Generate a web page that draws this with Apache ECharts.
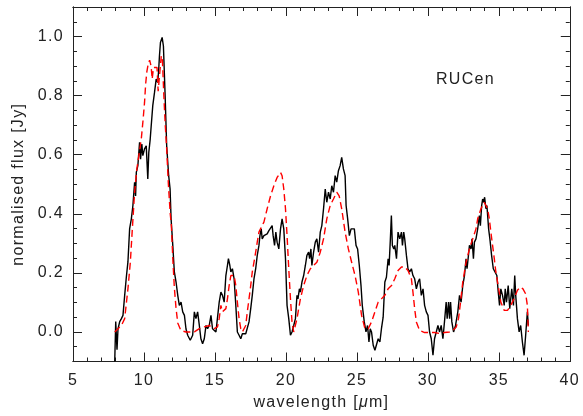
<!DOCTYPE html>
<html><head><meta charset="utf-8">
<script src="https://cdn.jsdelivr.net/npm/echarts@6/dist/echarts.min.js"></script>
<style>html,body{margin:0;padding:0;background:#fff}#c{width:583px;height:416px}</style>
</head><body><div id="c"></div>
<script>
// Observed spectrum (black, solid): [wavelength (µm), normalised flux (Jy)]
const observed = [
[7.94,-0.1],[8.01,0.035],[8.10,-0.06],[8.17,0.01],[8.29,0.035],[8.41,0.045],[8.52,0.056],[8.64,0.124],[8.76,0.187],[8.87,0.237],[8.99,0.35],[9.11,0.383],[9.22,0.428],[9.34,0.507],[9.41,0.46],[9.46,0.54],[9.57,0.563],[9.69,0.642],[9.76,0.585],[9.85,0.636],[9.92,0.597],[10.04,0.62],[10.16,0.63],[10.27,0.518],[10.34,0.608],[10.44,0.653],[10.51,0.698],[10.62,0.766],[10.74,0.81],[10.86,0.856],[10.97,0.845],[11.04,0.89],[11.09,0.934],[11.16,0.98],[11.28,0.997],[11.37,0.968],[11.49,0.8],[11.60,0.63],[11.74,0.529],[11.84,0.484],[11.91,0.383],[12.03,0.293],[12.14,0.203],[12.26,0.169],[12.38,0.124],[12.49,0.09],[12.61,0.101],[12.73,0.068],[12.85,0.056],[12.96,0.01],[13.08,-0.011],[13.26,-0.028],[13.43,-0.011],[13.55,0.068],[13.66,0.045],[13.78,0.068],[13.90,0.022],[14.01,-0.023],[14.13,-0.04],[14.25,-0.023],[14.37,0.022],[14.48,0.011],[14.60,0.022],[14.72,0.056],[14.83,0.011],[14.95,0.011],[15.07,0.0],[15.18,0.005],[15.30,0.101],[15.42,0.135],[15.53,0.124],[15.65,0.101],[15.77,0.191],[15.88,0.225],[15.95,0.248],[16.05,0.225],[16.12,0.203],[16.23,0.214],[16.35,0.18],[16.47,0.09],[16.58,0.0],[16.70,-0.011],[16.82,-0.023],[16.93,-0.006],[17.05,0],[17.17,-0.006],[17.28,0],[17.40,0.034],[17.52,0.079],[17.63,0.124],[17.75,0.18],[17.87,0.214],[17.98,0.259],[18.10,0.293],[18.17,0.326],[18.26,0.349],[18.33,0.315],[18.45,0.326],[18.57,0.326],[18.68,0.332],[18.80,0.343],[18.92,0.349],[19.03,0.36],[19.10,0.326],[19.20,0.293],[19.29,0.338],[19.38,0.304],[19.50,0.281],[19.62,0.349],[19.73,0.383],[19.85,0.349],[19.97,0.248],[20.08,0.09],[20.20,0.045],[20.32,-0.011],[20.43,0],[20.55,0.022],[20.67,0.045],[20.78,0.124],[20.85,0.112],[20.95,0.146],[21.02,0.135],[21.13,0.169],[21.25,0.191],[21.37,0.225],[21.48,0.259],[21.60,0.27],[21.67,0.248],[21.76,0.281],[21.83,0.225],[21.95,0.27],[22.07,0.304],[22.18,0.315],[22.30,0.27],[22.42,0.338],[22.53,0.36],[22.65,0.417],[22.77,0.484],[22.88,0.439],[23.00,0.473],[23.12,0.45],[23.23,0.495],[23.35,0.473],[23.47,0.529],[23.58,0.507],[23.70,0.546],[23.82,0.563],[23.93,0.591],[24.05,0.552],[24.17,0.529],[24.24,0.428],[24.35,0.383],[24.47,0.326],[24.59,0.349],[24.70,0.355],[24.82,0.349],[24.94,0.293],[25.05,0.281],[25.17,0.225],[25.29,0.157],[25.38,0.09],[25.52,0.034],[25.64,0],[25.75,0.022],[25.85,-0.034],[25.94,0.011],[26.03,0],[26.15,-0.045],[26.27,-0.062],[26.38,-0.068],[26.50,-0.023],[26.62,-0.034],[26.73,0.011],[26.85,0.05],[26.97,0.169],[27.08,0.185],[27.20,0.248],[27.27,0.225],[27.36,0.315],[27.43,0.394],[27.50,0.293],[27.60,0.281],[27.67,0.293],[27.79,0.248],[27.90,0.338],[28.02,0.315],[28.14,0.338],[28.21,0.293],[28.30,0.338],[28.37,0.315],[28.49,0.259],[28.60,0.214],[28.72,0.203],[28.84,0.214],[28.95,0.191],[29.07,0.18],[29.19,0.146],[29.31,0.169],[29.42,0.18],[29.54,0.124],[29.66,0.146],[29.77,0.09],[29.89,0.068],[30.01,0.056],[30.12,0],[30.24,-0.023],[30.36,-0.079],[30.47,-0.023],[30.59,-0.023],[30.71,0.022],[30.82,0],[30.94,0.022],[31.06,-0.023],[31.17,0.034],[31.29,0.101],[31.36,0.045],[31.46,0.101],[31.53,0.045],[31.60,0.101],[31.69,0.034],[31.81,0],[31.95,0.022],[32.11,0.068],[32.23,0.124],[32.34,0.101],[32.46,0.157],[32.58,0.191],[32.69,0.248],[32.76,0.214],[32.86,0.259],[32.93,0.293],[33.04,0.281],[33.11,0.315],[33.21,0.248],[33.28,0.304],[33.39,0.315],[33.51,0.349],[33.63,0.394],[33.70,0.36],[33.79,0.428],[33.86,0.45],[33.93,0.439],[34.00,0.456],[34.09,0.417],[34.16,0.428],[34.28,0.349],[34.37,0.315],[34.49,0.259],[34.61,0.214],[34.72,0.214],[34.86,0.191],[34.96,0.135],[35.05,0.09],[35.14,0.146],[35.26,0.124],[35.38,0.09],[35.45,0.146],[35.54,0.101],[35.66,0.157],[35.77,0.079],[35.91,0.146],[36.03,0.09],[36.12,0.191],[36.19,0.124],[36.31,0.045],[36.43,0],[36.54,0.022],[36.66,-0.034],[36.78,-0.079],[36.89,-0.011],[37.01,0.068],[37.08,0.022]
];
// Model fit (red, dashed)
const model = [
[7.94,0],[8.17,0.011],[8.41,0.022],[8.64,0.045],[8.87,0.146],[9.04,0.236],[9.18,0.349],[9.34,0.473],[9.50,0.552],[9.64,0.597],[9.81,0.653],[9.92,0.709],[10.04,0.777],[10.12,0.84],[10.20,0.88],[10.31,0.91],[10.40,0.92],[10.50,0.9],[10.58,0.856],[10.67,0.895],[10.80,0.9],[10.92,0.895],[11.00,0.815],[11.10,0.87],[11.22,0.935],[11.30,0.92],[11.40,0.80],[11.50,0.70],[11.60,0.62],[11.72,0.50],[11.85,0.40],[11.93,0.36],[12.03,0.25],[12.14,0.15],[12.26,0.08],[12.38,0.03],[12.60,0.005],[12.96,0],[13.20,0],[13.55,0],[13.90,0.011],[14.25,0.017],[14.60,0.022],[14.95,0.011],[15.18,0.017],[15.30,0.045],[15.42,0.09],[15.53,0.068],[15.65,0.068],[15.77,0.079],[15.88,0.112],[16.00,0.157],[16.12,0.191],[16.23,0.197],[16.35,0.191],[16.47,0.157],[16.58,0.101],[16.70,0.045],[16.82,0.011],[16.93,0],[17.05,0],[17.17,0.022],[17.28,0.068],[17.40,0.112],[17.52,0.157],[17.63,0.203],[17.75,0.236],[17.87,0.27],[17.98,0.304],[18.10,0.338],[18.21,0.349],[18.45,0.372],[18.68,0.417],[18.92,0.461],[19.15,0.495],[19.38,0.523],[19.62,0.54],[19.73,0.529],[19.85,0.484],[19.97,0.417],[20.08,0.326],[20.20,0.214],[20.32,0.112],[20.43,0.034],[20.55,0.0],[20.67,0.005],[20.78,0.045],[20.90,0.079],[21.02,0.112],[21.25,0.157],[21.48,0.191],[21.72,0.214],[21.95,0.225],[22.18,0.236],[22.42,0.27],[22.65,0.315],[22.88,0.383],[23.12,0.428],[23.35,0.45],[23.58,0.473],[23.75,0.461],[23.93,0.417],[24.17,0.338],[24.40,0.281],[24.63,0.236],[24.87,0.191],[25.10,0.135],[25.33,0.056],[25.57,0.011],[25.80,0.011],[26.03,0.034],[26.27,0.068],[26.50,0.101],[26.73,0.112],[26.97,0.124],[27.20,0.146],[27.32,0.141],[27.44,0.157],[27.67,0.18],[27.90,0.208],[28.14,0.22],[28.37,0.22],[28.60,0.208],[28.84,0.18],[28.95,0.135],[29.07,0.079],[29.19,0.034],[29.42,0.005],[29.77,-0.002],[30.12,-0.002],[30.47,-0.002],[30.82,-0.005],[31.17,-0.002],[31.52,0],[31.76,0.005],[32.00,0.017],[32.16,0.045],[32.30,0.1],[32.46,0.169],[32.69,0.236],[32.93,0.281],[33.16,0.315],[33.39,0.349],[33.51,0.383],[33.74,0.417],[33.97,0.439],[34.09,0.439],[34.21,0.417],[34.33,0.383],[34.44,0.338],[34.56,0.293],[34.68,0.248],[34.79,0.203],[34.91,0.169],[35.03,0.135],[35.14,0.101],[35.38,0.073],[35.61,0.073],[35.84,0.09],[36.07,0.112],[36.31,0.141],[36.54,0.152],[36.70,0.146],[36.89,0.129],[37.01,0.09],[37.08,0.0]
];
const xTickValues = [5,10,15,20,25,30,35,40];
const yTickValues = [0.0,0.2,0.4,0.6,0.8,1.0];
const objectName = 'RUCen';
const xTitle = 'wavelength [{i|μ}m]';
const yTitle = 'normalised flux [Jy]';

// IDL-style wide letter spacing for all canvas text
(function(){
  const P = CanvasRenderingContext2D.prototype;
  if (!('letterSpacing' in P)) return;
  const LS = '1.3px';
  const ft = P.fillText, st = P.strokeText, mt = P.measureText;
  P.fillText = function(){ this.letterSpacing = LS; return ft.apply(this, arguments); };
  P.strokeText = function(){ this.letterSpacing = LS; return st.apply(this, arguments); };
  P.measureText = function(){ this.letterSpacing = LS; return mt.apply(this, arguments); };
})();

const FONT = 'Liberation Sans';
const AX = '#222';
const FS = 16;
const chart = echarts.init(document.getElementById('c'), null, {renderer:'canvas'});
const lineStyle = {color: AX, width: 1};
function xAx(pos, major){
  const o = {type:'value', position:pos, min:5, max:40,
    axisLine:{show:true, onZero:false, lineStyle}, splitLine:{show:false}};
  if (major){
    o.interval = 5;
    o.axisTick = {show:true, inside:true, length:9, lineStyle};
    o.axisLabel = pos==='bottom' ? {show:true, margin:10, color:AX, fontFamily:FONT, fontSize:FS,
      customValues: xTickValues, formatter: v => String(v)} : {show:false};
  } else {
    o.interval = 1;
    o.axisTick = {show:true, inside:true, length:4, lineStyle};
    o.axisLabel = {show:false};
  }
  return o;
}
function yAx(pos, major){
  const o = {type:'value', position:pos, min:-0.1, max:1.1,
    axisLine:{show:true, onZero:false, lineStyle}, splitLine:{show:false}};
  if (major){
    o.axisTick = {show:true, inside:true, length:9, lineStyle, customValues: yTickValues};
    o.axisLabel = pos==='left' ? {show:true, customValues: yTickValues, margin:9,
      formatter: v => v.toFixed(1), color: AX, fontFamily: FONT, fontSize: FS} : {show:false};
  } else {
    o.interval = 0.05;
    o.axisTick = {show:true, inside:true, length:4, lineStyle};
    o.axisLabel = {show:false};
  }
  return o;
}
chart.setOption({
  animation:false,
  backgroundColor:'#fff',
  grid:{left:73, right:10, top:7, bottom:53, containLabel:false},
  title:{text:objectName, left:431, top:66, textStyle:{fontFamily:FONT, fontSize:FS, fontWeight:'normal', color:AX}},
  xAxis:[
    Object.assign(xAx('bottom', true), {name:xTitle, nameLocation:'middle', nameGap:29,
      nameTextStyle:{color:AX, fontFamily:FONT, fontSize:FS,
        rich:{i:{fontStyle:'italic', fontFamily:FONT, fontSize:FS, color:AX}}}}),
    xAx('bottom', false),
    xAx('top', true),
    xAx('top', false)
  ],
  yAxis:[
    Object.assign(yAx('left', true), {name:yTitle, nameLocation:'middle', nameGap:42,
      nameTextStyle:{color:AX, fontFamily:FONT, fontSize:FS}}),
    yAx('left', false),
    yAx('right', true),
    yAx('right', false)
  ],
  series:[
    {type:'line', data:observed, xAxisIndex:0, yAxisIndex:0, showSymbol:false,
     lineStyle:{color:'#000', width:1.4}, silent:true},
    {type:'line', data:model, xAxisIndex:0, yAxisIndex:0, showSymbol:false,
     lineStyle:{color:'#ff0000', width:1.4, type:[7,4]}, silent:true}
  ]
});
</script></body></html>
